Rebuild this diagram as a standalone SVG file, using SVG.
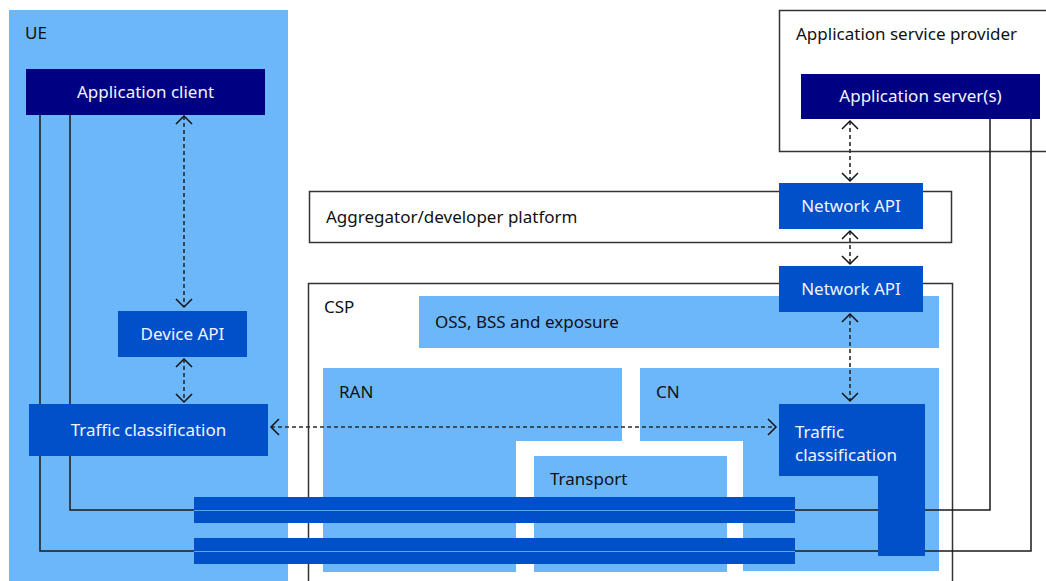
<svg xmlns="http://www.w3.org/2000/svg" width="1046" height="581" viewBox="0 0 1046 581">
<defs>
<style>
.t{font-family:"Noto Sans","Open Sans","DejaVu Sans",sans-serif;font-size:17px;fill:#111}
.w{font-family:"Noto Sans","Open Sans","DejaVu Sans",sans-serif;font-size:17px;fill:#f2f4ff}
.c{text-anchor:middle}
.lb{fill:#6cb6fa}
.nv{fill:#000082}
.bl{fill:#0050ca}
.frame{fill:#fff;stroke:#333;stroke-width:1.5}
.wire{fill:none;stroke:#1a1a1a;stroke-width:1.5}
.dash{fill:none;stroke:#2a2a2a;stroke-width:1.6;stroke-dasharray:4 3;marker-start:url(#ch);marker-end:url(#ch)}
.mid{stroke:#5fa6f2;stroke-width:1.2}
</style>
<marker id="ch" viewBox="-10 -10 20 20" markerWidth="20" markerHeight="20" markerUnits="userSpaceOnUse" orient="auto-start-reverse" refX="0" refY="0">
<path d="M-8,-8 L0,0 L-8,8" fill="none" stroke="#111" stroke-width="1.5"/>
</marker>
</defs>
<rect width="1046" height="581" fill="#fff"/>

<g id="ue">
<rect class="lb" x="9" y="10" width="279" height="571"/>
<text class="t" x="25" y="39">UE</text>
</g>

<g id="asp">
<rect class="frame" x="779.5" y="10.5" width="280" height="141"/>
<text class="t" x="796" y="40">Application service provider</text>
</g>

<g id="aggregator">
<rect class="frame" x="309.5" y="191.5" width="642" height="51"/>
<text class="t" x="326" y="223">Aggregator/developer platform</text>
</g>

<g id="csp">
<rect class="frame" x="308.5" y="283.5" width="644" height="310"/>
<text class="t" x="324" y="313">CSP</text>
</g>

<g id="oss">
<rect class="lb" x="419" y="296" width="520" height="52"/>
<text class="t" x="435" y="328">OSS, BSS and exposure</text>
</g>

<g id="ran">
<polygon class="lb" points="323,368 622,368 622,441 516,441 516,572 323,572"/>
<text class="t" x="339" y="398">RAN</text>
</g>

<g id="cn">
<polygon class="lb" points="640,368 939,368 939,571 743,571 743,441 640,441"/>
<text class="t" x="656" y="398">CN</text>
</g>

<g id="transport">
<rect class="lb" x="534" y="456" width="193" height="116"/>
<text class="t" x="550" y="485">Transport</text>
</g>

<g id="connectors">
<polyline class="wire" points="70,115 70,510 200,510"/>
<polyline class="wire" points="40,115 40,551 200,551"/>
<polyline class="wire" points="790,510 990,510 990,119"/>
<polyline class="wire" points="790,551 1031,551 1031,119"/>
<line class="dash" x1="184" y1="116" x2="184" y2="307"/>
<line class="dash" x1="184" y1="359" x2="184" y2="402"/>
<line class="dash" x1="271" y1="427" x2="776" y2="427"/>
<line class="dash" x1="850" y1="121" x2="850" y2="181"/>
<line class="dash" x1="850" y1="231" x2="850" y2="264"/>
<line class="dash" x1="850" y1="314" x2="850" y2="401"/>
</g>

<g id="app-client">
<rect class="nv" x="26" y="69" width="239" height="46"/>
<text class="w c" x="145.5" y="98">Application client</text>
</g>

<g id="device-api">
<rect class="bl" x="118" y="311" width="129" height="46"/>
<text class="w c" x="182.5" y="340">Device API</text>
</g>

<g id="ue-traffic">
<rect class="bl" x="29" y="404" width="239" height="52"/>
<text class="w c" x="148.5" y="436">Traffic classification</text>
</g>

<g id="app-server">
<rect class="nv" x="801" y="74" width="239" height="45"/>
<text class="w c" x="920.5" y="102">Application server(s)</text>
</g>

<g id="network-api-1">
<rect class="bl" x="779" y="183" width="144" height="46"/>
<text class="w c" x="851" y="212">Network API</text>
</g>

<g id="network-api-2">
<rect class="bl" x="779" y="266" width="144" height="46"/>
<text class="w c" x="851" y="295">Network API</text>
</g>

<g id="cn-traffic">
<polygon class="bl" points="779,404 925,404 925,556 878,556 878,476 779,476"/>
<text class="w" x="795" y="438">Traffic</text>
<text class="w" x="795" y="461">classification</text>
</g>

<g id="bars">
<rect class="bl" x="194" y="497" width="601" height="26"/>
<line class="mid" x1="194" y1="510.5" x2="795" y2="510.5"/>
<rect class="bl" x="194" y="538" width="601" height="26"/>
<line class="mid" x1="194" y1="551.5" x2="795" y2="551.5"/>
</g>
</svg>
